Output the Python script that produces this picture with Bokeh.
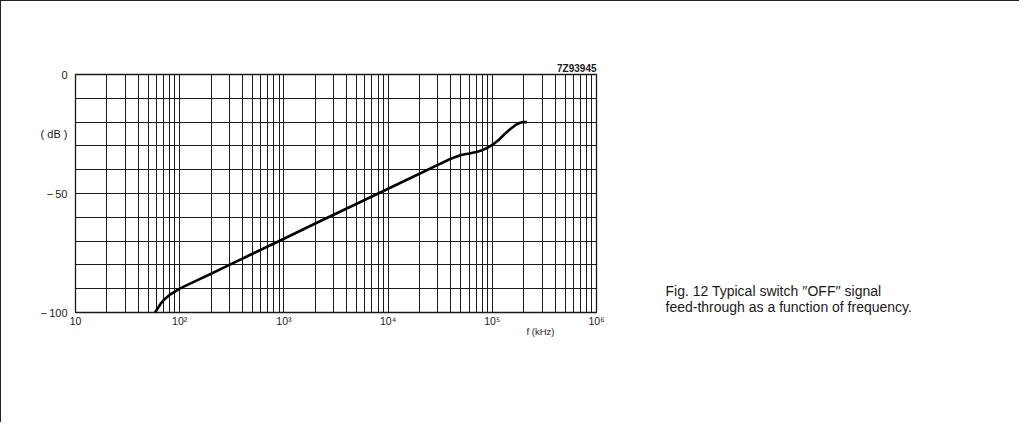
from bokeh.plotting import figure
from bokeh.models import FixedTicker, LogAxis, LinearAxis, Title
from bokeh.embed import file_html
from bokeh.resources import INLINE

# curve: frequency (kHz) and feed-through (dB)
freq = [58, 62, 66, 72, 80, 90, 100, 120, 150, 200, 300, 500, 1e3, 2e3, 5e3,
        1e4, 2e4, 3e4, 4e4, 5e4, 6e4, 7e4, 8e4, 9e4, 1e5, 1.15e5, 1.3e5,
        1.5e5, 1.7e5, 1.85e5, 2e5, 2.15e5]
gain = [-100, -98, -96.2, -94.3, -92.6, -91.2, -90, -88.3, -86.3, -83.7, -80,
        -75.3, -69, -62.6, -54.3, -48, -41.7, -38, -35.4, -33.8, -33.2, -32.6,
        -31.8, -30.8, -29.6, -27.5, -25.2, -22.8, -21.0, -20.3, -20, -20]

x_decades = [10, 100, 1000, 10000, 100000, 1000000]
x_labels = ["10", "10\u00b2", "10\u00b3", "10\u2074", "10\u2075", "10\u2076"]
x_minor = [k * d for d in [10, 100, 1000, 10000, 100000] for k in range(2, 10)]
y_grid = list(range(-100, 1, 10))
y_ticks = [-100, -50, -25, 0]
y_labels = ["\u2212\u2009100", "\u2212\u200950", "( dB )", "0"]
code_text = "7Z93945"
unit_pos = [290000]
unit_text = ["f (kHz)"]
caption_pos = [-91.0, -97.7]
caption = ["Fig. 12  Typical switch \u2032\u2032OFF\u2032\u2032 signal",
           "feed-through as a function of frequency."]

FONT = "Liberation Sans"
INK = "#1a1a1a"

p = figure(width=1019, height=422, x_axis_type="log",
           x_range=(10, 1e6), y_range=(-100, 0),
           min_border_left=74, min_border_right=424,
           min_border_top=73, min_border_bottom=111,
           output_backend="svg", toolbar_location=None)
p.styles = {"border-left": "1.5px solid #222", "border-top": "1.5px solid #222"}

p.outline_line_color = INK
p.outline_line_width = 1.3
p.background_fill_color = "white"
p.border_fill_color = "white"

# grid
p.xgrid.ticker = FixedTicker(ticks=x_decades, minor_ticks=x_minor)
p.xgrid.grid_line_color = INK
p.xgrid.grid_line_width = 1
p.xgrid.minor_grid_line_color = INK
p.xgrid.minor_grid_line_width = 1
p.ygrid.ticker = FixedTicker(ticks=y_grid)
p.ygrid.grid_line_color = INK
p.ygrid.grid_line_width = 1


def style_axis(ax, size):
    ax.axis_line_color = None
    ax.major_tick_line_color = None
    ax.minor_tick_line_color = None
    ax.major_tick_out = 0
    ax.minor_tick_out = 0
    ax.major_tick_in = 0
    ax.minor_tick_in = 0
    ax.major_label_text_font = FONT
    ax.major_label_text_font_size = size
    ax.major_label_text_color = INK


style_axis(p.xaxis[0], "10.5px")
style_axis(p.yaxis[0], "11px")
p.xaxis.ticker = FixedTicker(ticks=x_decades)
p.xaxis.major_label_overrides = dict(zip(x_decades, x_labels))
p.xaxis.major_label_standoff = 2
p.yaxis.ticker = FixedTicker(ticks=y_ticks)
p.yaxis.major_label_overrides = dict(zip(y_ticks, y_labels))
p.yaxis.major_label_standoff = 8

# unit label under the x axis
unit_axis = LogAxis(ticker=FixedTicker(ticks=unit_pos),
                    major_label_overrides=dict(zip(unit_pos, unit_text)),
                    major_label_standoff=-4)
style_axis(unit_axis, "9.5px")
p.add_layout(unit_axis, "below")

# caption to the right of the chart
cap_axis = LinearAxis(ticker=FixedTicker(ticks=caption_pos),
                      major_label_overrides=dict(zip(caption_pos, caption)),
                      major_label_standoff=69)
style_axis(cap_axis, "14px")
p.add_layout(cap_axis, "right")

# drawing code number
p.add_layout(Title(text=code_text, align="right", text_font=FONT,
                   text_font_size="10px", text_font_style="bold",
                   text_color=INK, standoff=1), "above")

# curve
p.line(freq, gain, line_color="black", line_width=2.6, line_join="round")

open("out.html", "w").write(file_html(p, INLINE))
